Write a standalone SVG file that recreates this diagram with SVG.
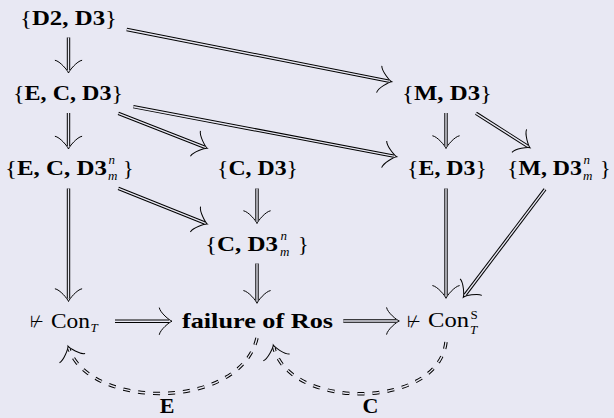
<svg xmlns="http://www.w3.org/2000/svg" width="614" height="418" viewBox="0 0 614 418">
<style>
text { font-family: "Liberation Serif", "DejaVu Serif", serif; font-size: 22px; fill: #000; }
.b { font-weight: bold; }
.r { font-weight: normal; }
.s { font-size: 13px; font-style: italic; font-weight: normal; }
.sr { font-size: 13px; font-weight: normal; }
.sym { font-family: "DejaVu Sans", sans-serif; font-size: 16px; }
.o { fill: none; stroke: #000; stroke-width: 3.4; }
.i { fill: none; stroke: #e8e8f3; stroke-width: 1.4; }
.d { stroke-dasharray: 7 8; }
</style>
<defs>
<marker id="ah" markerUnits="userSpaceOnUse" markerWidth="40" markerHeight="40" viewBox="-20 -20 40 40" refX="0" refY="0" orient="auto" overflow="visible">
<path d="M -9.75,-13.6 C -8.9,-8.5 0.45,-0.85 3,0 C 0.45,0.85 -8.9,8.5 -9.75,13.6" fill="none" stroke="#000" stroke-width="1"/>
</marker>
</defs>
<rect width="614" height="418" fill="#e8e8f3"/>
<g id="connectors">
<path class="o" d="M68.5,37.5 L68.5,70" marker-end="url(#ah)"/><path class="i" d="M68.5,37.5 L68.5,70"/>
<path class="o" d="M126.7,29.5 L388.75,81.1" marker-end="url(#ah)"/><path class="i" d="M126.7,29.5 L388.75,81.1"/>
<path class="o" d="M68.5,113 L68.5,146" marker-end="url(#ah)"/><path class="i" d="M68.5,113 L68.5,146"/>
<path class="o" d="M118.3,113.3 L204.5,147.2" marker-end="url(#ah)"/><path class="i" d="M118.3,113.3 L204.5,147.2"/>
<path class="o" d="M133.3,106.7 L393.75,156.1" marker-end="url(#ah)"/><path class="i" d="M133.3,106.7 L393.75,156.1"/>
<path class="o" d="M446,113 L446,145.5" marker-end="url(#ah)"/><path class="i" d="M446,113 L446,145.5"/>
<path class="o" d="M476,113.3 L527.5,146.1" marker-end="url(#ah)"/><path class="i" d="M476,113.3 L527.5,146.1"/>
<path class="o" d="M68.5,188.5 L68.5,298.5" marker-end="url(#ah)"/><path class="i" d="M68.5,188.5 L68.5,298.5"/>
<path class="o" d="M118.3,188.3 L204.5,222.9" marker-end="url(#ah)"/><path class="i" d="M118.3,188.3 L204.5,222.9"/>
<path class="o" d="M257,188.5 L257,220.5" marker-end="url(#ah)"/><path class="i" d="M257,188.5 L257,220.5"/>
<path class="o" d="M257,263.5 L257,300.3" marker-end="url(#ah)"/><path class="i" d="M257,263.5 L257,300.3"/>
<path class="o" d="M446,188.5 L446,295.3" marker-end="url(#ah)"/><path class="i" d="M446,188.5 L446,295.3"/>
<path class="o" d="M545,189.3 L465.1,294.9" marker-end="url(#ah)"/><path class="i" d="M545,189.3 L465.1,294.9"/>
<path class="o" d="M115,321.2 L169,321.2" marker-end="url(#ah)"/><path class="i" d="M115,321.2 L169,321.2"/>
<path class="o" d="M343.3,321 L396.3,321" marker-end="url(#ah)"/><path class="i" d="M343.3,321 L396.3,321"/>
<path class="o d" d="M257,338 C240,410 91,410 69,349" marker-end="url(#ah)"/><path class="i d" d="M257,338 C240,410 91,410 69,349"/>
<path class="o d" d="M446,342 C438,410 290,410 274,348" marker-end="url(#ah)"/><path class="i d" d="M446,342 C438,410 290,410 274,348"/>
<text class="b" x="167" y="413" text-anchor="middle">E</text>
<text class="b" x="370.5" y="413" text-anchor="middle">C</text>
</g>
<g id="n_D2D3"><text class="b" x="20" y="25" textLength="97" lengthAdjust="spacingAndGlyphs"><tspan class="r">{</tspan>D2, D3<tspan class="r">}</tspan></text></g>
<g id="n_ECD3"><text class="b" x="13" y="100" textLength="110" lengthAdjust="spacingAndGlyphs"><tspan class="r">{</tspan>E, C, D3<tspan class="r">}</tspan></text></g>
<g id="n_ECD3nm"><text class="b" x="5" y="175" textLength="102" lengthAdjust="spacingAndGlyphs"><tspan class="r">{</tspan>E, C, D3</text><text class="s" x="108.5" y="164">n</text><text class="s" x="108" y="179.5">m</text><text class="r" x="123" y="175">}</text></g>
<g id="n_CD3"><text class="b" x="217" y="175" textLength="81" lengthAdjust="spacingAndGlyphs"><tspan class="r">{</tspan>C, D3<tspan class="r">}</tspan></text></g>
<g id="n_CD3nm"><text class="b" x="205" y="251" textLength="73" lengthAdjust="spacingAndGlyphs"><tspan class="r">{</tspan>C, D3</text><text class="s" x="280.5" y="240">n</text><text class="s" x="280" y="255.5">m</text><text class="r" x="298" y="251">}</text></g>
<g id="n_MD3"><text class="b" x="402" y="100" textLength="90" lengthAdjust="spacingAndGlyphs"><tspan class="r">{</tspan>M, D3<tspan class="r">}</tspan></text></g>
<g id="n_ED3"><text class="b" x="407" y="175" textLength="80" lengthAdjust="spacingAndGlyphs"><tspan class="r">{</tspan>E, D3<tspan class="r">}</tspan></text></g>
<g id="n_MD3nm"><text class="b" x="507" y="175" textLength="75" lengthAdjust="spacingAndGlyphs"><tspan class="r">{</tspan>M, D3</text><text class="s" x="583.5" y="164">n</text><text class="s" x="583" y="179.5">m</text><text class="r" x="600" y="175">}</text></g>
<g id="n_ConT"><text class="sym" x="30" y="327">⊬</text><text class="r" x="51" y="327.5" textLength="39" lengthAdjust="spacingAndGlyphs">Con</text><text class="s" x="90.5" y="332">T</text></g>
<g id="n_Ros"><text class="b" x="182" y="328" textLength="151" lengthAdjust="spacingAndGlyphs">failure of Ros</text></g>
<g id="n_ConST"><text class="sym" x="407" y="327">⊬</text><text class="r" x="428" y="327" textLength="41" lengthAdjust="spacingAndGlyphs">Con</text><text class="sr" x="470.5" y="318.5">S</text><text class="s" x="470" y="334">T</text></g>
</svg>
